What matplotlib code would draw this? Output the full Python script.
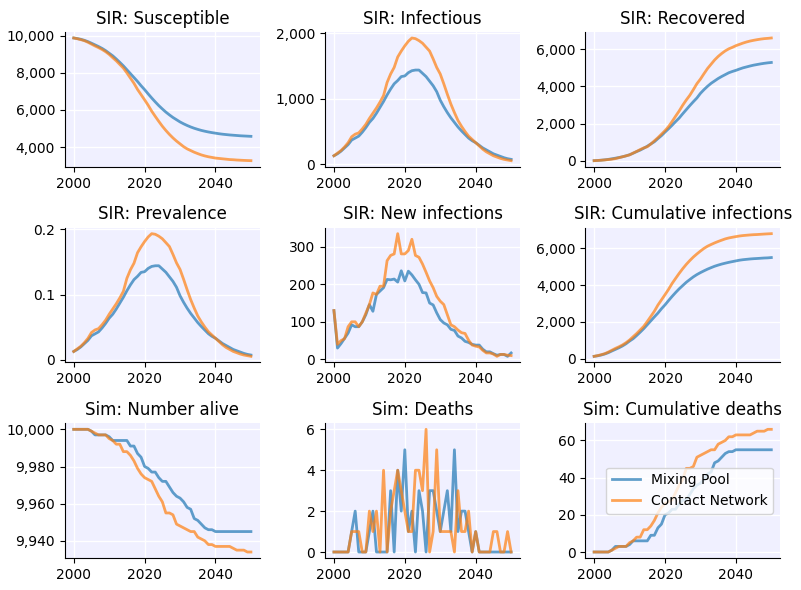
import matplotlib
matplotlib.use("Agg")
import matplotlib.pyplot as plt
import numpy as np
from matplotlib.ticker import FuncFormatter

years = np.arange(2000, 2051)
labels = ["Mixing Pool", "Contact Network"]

susceptible_pool = [
    9870, 9840, 9800, 9745, 9675, 9590, 9500, 9410, 9310, 9190,
    9050, 8910, 8740, 8560, 8370, 8160, 7950, 7740, 7530, 7300,
    7090, 6860, 6640, 6430, 6230, 6050, 5880, 5730, 5590, 5470,
    5350, 5250, 5160, 5080, 5010, 4950, 4895, 4850, 4810, 4775,
    4745, 4715, 4690, 4670, 4650, 4635, 4620, 4605, 4595, 4585, 4575,
]
susceptible_network = [
    9870, 9830, 9780, 9725, 9640, 9540, 9440, 9350, 9250, 9130,
    8985, 8810, 8640, 8445, 8250, 7990, 7710, 7430, 7100, 6820,
    6540, 6250, 5930, 5650, 5380, 5120, 4890, 4680, 4490, 4320,
    4170, 4020, 3900, 3810, 3720, 3645, 3575, 3520, 3475, 3440,
    3405, 3385, 3365, 3345, 3325, 3315, 3300, 3290, 3280, 3272, 3265,
]

infectious_pool = [
    130, 160, 200, 250, 300, 370, 400, 430, 490, 560,
    640, 700, 780, 870, 960, 1060, 1150, 1230, 1280, 1340,
    1350, 1400, 1430, 1440, 1440, 1390, 1340, 1270, 1200, 1110,
    980, 880, 790, 710, 640, 570, 510, 455, 400, 360,
    330, 290, 250, 220, 190, 160, 140, 120, 100, 85, 75,
]
infectious_network = [
    130, 170, 210, 265, 330, 420, 460, 480, 540, 610,
    700, 780, 860, 950, 1050, 1250, 1380, 1480, 1640, 1730,
    1810, 1880, 1930, 1920, 1890, 1850, 1790, 1730, 1610, 1480,
    1380, 1230, 1070, 920, 790, 670, 580, 500, 430, 380,
    330, 280, 230, 190, 160, 130, 110, 90, 75, 65, 55,
]

recovered_pool = [
    0, 10, 25, 45, 70, 100, 135, 170, 210, 260,
    320, 400, 490, 570, 670, 780, 900, 1020, 1190, 1350,
    1540, 1720, 1910, 2110, 2300, 2530, 2750, 2970, 3180, 3380,
    3630, 3830, 4010, 4170, 4300, 4430, 4540, 4640, 4740, 4810,
    4870, 4940, 5005, 5055, 5105, 5150, 5185, 5220, 5250, 5275, 5295,
]
recovered_network = [
    0, 10, 25, 40, 60, 80, 110, 160, 210, 260,
    310, 410, 500, 600, 690, 750, 900, 1070, 1240, 1430,
    1620, 1840, 2110, 2400, 2680, 2990, 3270, 3525, 3830, 4150,
    4400, 4690, 4970, 5200, 5430, 5620, 5780, 5920, 6030, 6110,
    6200, 6270, 6340, 6400, 6450, 6490, 6525, 6555, 6580, 6595, 6615,
]

new_infections_pool = [
    130, 30, 42, 56, 70, 92, 87, 87, 100, 119,
    146, 128, 173, 182, 191, 213, 212, 214, 206, 236,
    209, 235, 225, 212, 200, 178, 177, 150, 145, 124,
    106, 97, 92, 80, 77, 62, 57, 48, 45, 40,
    38, 38, 27, 20, 20, 15, 11, 13, 13, 8, 17,
]
new_infections_network = [
    130, 40, 50, 55, 87, 100, 100, 87, 100, 123,
    146, 177, 173, 195, 195, 263, 277, 281, 335, 281,
    281, 290, 320, 277, 272, 254, 232, 209, 191, 168,
    155, 146, 119, 92, 87, 78, 71, 69, 51, 38,
    35, 33, 24, 17, 17, 14, 8, 13, 13, 11, 10,
]

deaths_pool = [
    0, 0, 0, 0, 0, 1, 2, 0, 0, 0,
    1, 2, 0, 0, 0, 0, 3, 0, 4, 2,
    5, 1, 2, 0, 3, 2, 0, 3, 3, 2,
    1, 2, 3, 1, 5, 1, 2, 2, 1, 0,
    1, 0, 0, 0, 0, 0, 0, 0, 0, 0, 0,
]
deaths_network = [
    0, 0, 0, 0, 0, 1, 1, 1, 0, 0,
    2, 1, 2, 0, 4, 0, 2, 3, 4, 3,
    2, 1, 1, 4, 4, 3, 6, 0, 1, 5,
    1, 1, 1, 1, 0, 3, 1, 1, 2, 0,
    1, 0, 0, 0, 0, 1, 1, 0, 0, 1, 0,
]

population = 10000

cum_deaths_pool = np.cumsum(deaths_pool)
cum_deaths_network = np.cumsum(deaths_network)
alive_pool = population - cum_deaths_pool
alive_network = population - cum_deaths_network

panels = [
    ("SIR: Susceptible", susceptible_pool, susceptible_network),
    ("SIR: Infectious", infectious_pool, infectious_network),
    ("SIR: Recovered", recovered_pool, recovered_network),
    ("SIR: Prevalence",
     np.array(infectious_pool) / alive_pool,
     np.array(infectious_network) / alive_network),
    ("SIR: New infections", new_infections_pool, new_infections_network),
    ("SIR: Cumulative infections",
     np.cumsum(new_infections_pool), np.cumsum(new_infections_network)),
    ("Sim: Number alive", alive_pool, alive_network),
    ("Sim: Deaths", deaths_pool, deaths_network),
    ("Sim: Cumulative deaths", cum_deaths_pool, cum_deaths_network),
]


def _fmt(value, _pos):
    if abs(value - round(value)) < 1e-9:
        return f"{value:,.0f}"
    return f"{value:g}"


figure, axes = plt.subplots(3, 3, figsize=(8.01, 5.9), dpi=100)

for axis, (title, pool, network) in zip(axes.flat, panels):
    axis.set_facecolor("#f0f0ff")
    axis.grid(True, color="white", linewidth=1)
    axis.set_axisbelow(True)
    axis.plot(years, pool, color="tab:blue", alpha=0.7, linewidth=2,
              label=labels[0])
    axis.plot(years, network, color="tab:orange", alpha=0.7, linewidth=2,
              label=labels[1])
    axis.set_title(title)
    axis.set_xticks([2000, 2020, 2040])
    axis.yaxis.set_major_formatter(FuncFormatter(_fmt))
    axis.spines["top"].set_visible(False)
    axis.spines["right"].set_visible(False)

axes[2, 2].legend(loc="center right")

figure.subplots_adjust(
    left=0.081,
    right=0.974,
    top=0.946,
    bottom=0.054,
    wspace=0.335,
    hspace=0.45,
)
figure.savefig("out.png", dpi=100)
